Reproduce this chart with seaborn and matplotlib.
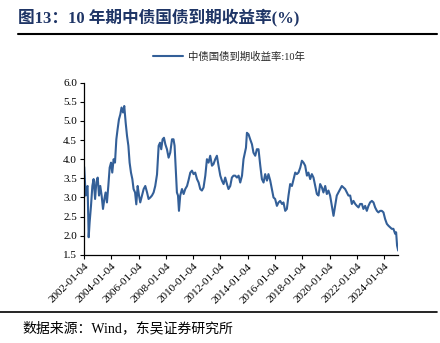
import numpy as np
import pandas as pd
import matplotlib
matplotlib.use("Agg")
import matplotlib.pyplot as plt
import seaborn as sns

# ---- data ----
years = [
    2002.01, 2002.12, 2002.17, 2002.26, 2002.34, 2002.41, 2002.51, 2002.61, 2002.70, 2002.81,
    2002.90, 2003.00, 2003.10, 2003.19, 2003.29, 2003.39, 2003.49, 2003.58, 2003.68, 2003.78,
    2003.88, 2003.98, 2004.07, 2004.17, 2004.27, 2004.37, 2004.46, 2004.56, 2004.66, 2004.75,
    2004.86, 2004.95, 2005.05, 2005.15, 2005.25, 2005.34, 2005.44, 2005.54, 2005.63, 2005.74,
    2005.83, 2005.93, 2006.03, 2006.12, 2006.25, 2006.37, 2006.49, 2006.62, 2006.73, 2006.86,
    2006.98, 2007.10, 2007.22, 2007.35, 2007.47, 2007.57, 2007.66, 2007.76, 2007.86, 2007.96,
    2008.08, 2008.20, 2008.32, 2008.45, 2008.56, 2008.64, 2008.74, 2008.81, 2008.89, 2008.96,
    2009.05, 2009.18, 2009.30, 2009.42, 2009.55, 2009.66, 2009.79, 2009.91, 2010.03, 2010.15,
    2010.28, 2010.40, 2010.52, 2010.64, 2010.76, 2010.89, 2011.01, 2011.13, 2011.25, 2011.38,
    2011.49, 2011.62, 2011.74, 2011.86, 2011.99, 2012.11, 2012.23, 2012.35, 2012.48, 2012.59,
    2012.72, 2012.84, 2012.96, 2013.08, 2013.21, 2013.33, 2013.45, 2013.58, 2013.69, 2013.77,
    2013.87, 2013.94, 2014.06, 2014.18, 2014.31, 2014.42, 2014.55, 2014.67, 2014.79, 2014.92,
    2015.04, 2015.16, 2015.28, 2015.41, 2015.52, 2015.65, 2015.77, 2015.89, 2016.01, 2016.14,
    2016.26, 2016.38, 2016.51, 2016.62, 2016.75, 2016.87, 2016.99, 2017.11, 2017.24, 2017.36,
    2017.48, 2017.60, 2017.72, 2017.85, 2017.97, 2018.09, 2018.21, 2018.34, 2018.45, 2018.58,
    2018.70, 2018.82, 2018.95, 2019.07, 2019.19, 2019.31, 2019.44, 2019.55, 2019.68, 2019.80,
    2019.92, 2020.04, 2020.17, 2020.29, 2020.41, 2020.53, 2020.65, 2020.78, 2020.90, 2021.02,
    2021.14, 2021.27, 2021.38, 2021.51, 2021.63, 2021.75, 2021.88, 2022.00, 2022.12, 2022.24,
    2022.37, 2022.48, 2022.61, 2022.73, 2022.85, 2022.97, 2023.10, 2023.22, 2023.34, 2023.47,
    2023.58, 2023.71, 2023.83, 2023.95, 2024.07, 2024.20, 2024.32, 2024.44, 2024.56, 2024.68,
    2024.81, 2024.88, 2024.95, 2025.03,
]
yields = [
    3.80, 3.05, 3.25, 3.30, 1.96, 2.35, 2.78, 3.30, 3.48, 2.96,
    3.39, 3.52, 3.05, 3.30, 3.05, 2.70, 2.96, 3.13, 2.87, 3.30,
    3.78, 3.91, 3.65, 4.00, 3.91, 4.52, 4.78, 5.04, 5.17, 5.35,
    5.22, 5.39, 4.96, 4.61, 4.35, 3.91, 3.65, 3.48, 3.22, 3.13,
    2.82, 3.30, 3.05, 2.87, 3.05, 3.22, 3.30, 3.13, 2.96, 3.00,
    3.05, 3.13, 3.30, 3.60, 4.35, 4.43, 4.26, 4.52, 4.56, 4.39,
    4.26, 4.04, 4.17, 4.52, 4.52, 4.35, 3.65, 3.13, 3.05, 2.65,
    3.05, 3.22, 3.09, 3.22, 3.30, 3.45, 3.65, 3.70, 3.61, 3.65,
    3.48, 3.39, 3.22, 3.18, 3.26, 3.57, 4.00, 3.91, 4.09, 3.83,
    3.87, 4.00, 4.09, 3.83, 3.57, 3.44, 3.35, 3.52, 3.35, 3.22,
    3.30, 3.52, 3.57, 3.57, 3.52, 3.57, 3.39, 3.57, 4.00, 4.13,
    4.30, 4.69, 4.65, 4.52, 4.39, 4.17, 4.09, 4.26, 4.26, 3.83,
    3.48, 3.39, 3.61, 3.44, 3.61, 3.44, 3.22, 3.00, 2.96, 2.78,
    2.87, 2.91, 2.83, 2.87, 2.65, 2.70, 3.05, 3.35, 3.30, 3.48,
    3.65, 3.61, 3.65, 3.78, 3.96, 3.91, 3.83, 3.57, 3.65, 3.48,
    3.61, 3.52, 3.30, 3.09, 3.05, 3.35, 3.26, 3.13, 3.30, 3.09,
    3.18, 3.05, 2.78, 2.52, 2.78, 3.05, 3.13, 3.22, 3.30, 3.26,
    3.22, 3.13, 3.05, 3.05, 2.83, 2.91, 2.83, 2.78, 2.74, 2.83,
    2.83, 2.70, 2.78, 2.65, 2.78, 2.87, 2.91, 2.87, 2.74, 2.65,
    2.61, 2.65, 2.65, 2.61, 2.44, 2.31, 2.26, 2.22, 2.18, 2.18,
    2.05, 2.09, 1.74, 1.61,
]
tick_dates = ["2002-01-04", "2004-01-04", "2006-01-04", "2008-01-04", "2010-01-04",
              "2012-01-04", "2014-01-04", "2016-01-04", "2018-01-04", "2020-01-04",
              "2022-01-04", "2024-01-04"]
y_ticks = [1.5, 2.0, 2.5, 3.0, 3.5, 4.0, 4.5, 5.0, 5.5, 6.0]
series_name = "中债国债到期收益率:10年"
title_text = "图13：10 年期中债国债到期收益率(%)"
source_text = "数据来源：Wind，东吴证券研究所"


def to_ts(y):
    yr = int(np.floor(y))
    return pd.Timestamp(year=yr, month=1, day=1) + pd.Timedelta(days=(y - yr) * 365.25 + 3)


df = pd.DataFrame({"date": [to_ts(y) for y in years], "value": yields})

sns.set_theme(style="ticks")
FAM = ["Liberation Serif", "Noto Sans CJK SC"]
plt.rcParams["font.family"] = FAM
plt.rcParams["axes.unicode_minus"] = False

LINE_COLOR = "#335f98"
TITLE_COLOR = "#1f3566"

fig = plt.figure(figsize=(4.40, 3.43), dpi=100)
ax = fig.add_axes([0.191, 0.257, 0.714, 0.502])

sns.lineplot(data=df, x="date", y="value", ax=ax, color=LINE_COLOR, linewidth=1.5,
             label=series_name, legend=False)

ax.set_ylim(1.5, 6.0)
ax.set_yticks(y_ticks)
ax.set_yticklabels([f"{v:.1f}" for v in y_ticks])
tds = pd.to_datetime(tick_dates)
ax.set_xlim(pd.Timestamp("2002-01-04"), df["date"].iloc[-1])
ax.set_xticks(tds)
ax.set_xticklabels(tick_dates, rotation=45, ha="right", rotation_mode="anchor")
ax.set_xlabel("")
ax.set_ylabel("")

for s in ["top", "right"]:
    ax.spines[s].set_visible(False)
for s in ["left", "bottom"]:
    ax.spines[s].set_color("black")
    ax.spines[s].set_linewidth(0.9)
ax.tick_params(axis="both", direction="out", length=3, width=0.8, color="black",
               labelsize=8, labelcolor="black", pad=2)
ax.grid(False)

handles, labels = ax.get_legend_handles_labels()
leg = fig.legend(handles, labels, loc="center", bbox_to_anchor=(0.52, 0.834),
                 frameon=False, fontsize=7.5, handlelength=2.9, handletextpad=0.45)

fig.text(0.041, 0.95, title_text, fontsize=12, fontweight="bold", color=TITLE_COLOR,
         ha="left", va="center", family=FAM)
fig.add_artist(plt.Line2D([0.041, 0.993], [0.901, 0.901], color="black", linewidth=1.5,
                          transform=fig.transFigure))
fig.add_artist(plt.Line2D([0.0, 0.993], [0.091, 0.091], color="black", linewidth=1.2,
                          transform=fig.transFigure))
fig.text(0.05, 0.043, source_text, fontsize=10, color="black", ha="left", va="center",
         family=FAM)

fig.savefig("out.png", dpi=100, facecolor="white")
